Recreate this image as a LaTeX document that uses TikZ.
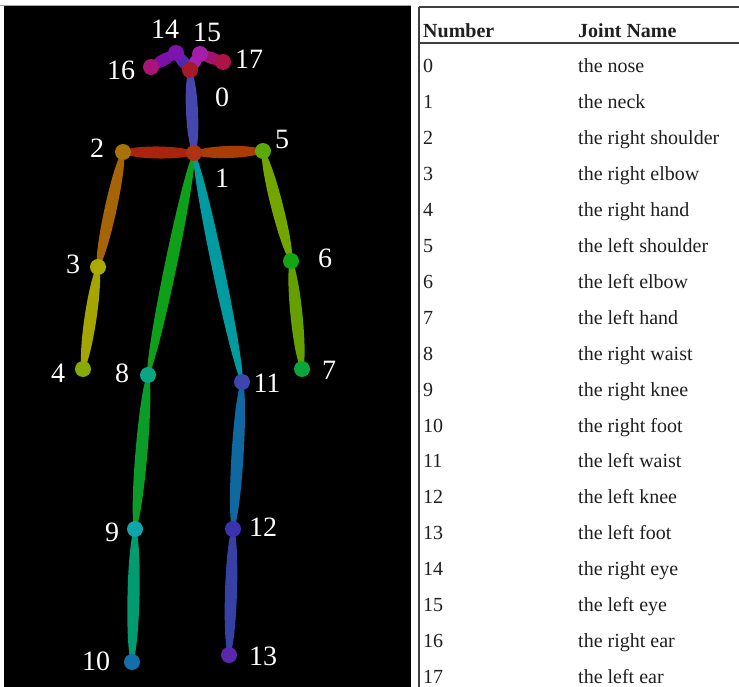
\documentclass[tikz,border=0pt]{standalone}
\usepackage{fontspec}
\setmainfont{Liberation Serif}
\usetikzlibrary{calc,backgrounds}
% joint colours (0..17)
\definecolor{c0}{RGB}{165,25,40}
\definecolor{c1}{RGB}{175,50,20}
\definecolor{c2}{RGB}{170,115,10}
\definecolor{c3}{RGB}{170,170,0}
\definecolor{c4}{RGB}{135,170,10}
\definecolor{c5}{RGB}{90,170,10}
\definecolor{c6}{RGB}{20,165,20}
\definecolor{c7}{RGB}{10,165,60}
\definecolor{c8}{RGB}{10,165,130}
\definecolor{c9}{RGB}{15,165,170}
\definecolor{c10}{RGB}{20,110,170}
\definecolor{c11}{RGB}{60,70,175}
\definecolor{c12}{RGB}{60,50,175}
\definecolor{c13}{RGB}{90,40,175}
\definecolor{c14}{RGB}{125,20,175}
\definecolor{c15}{RGB}{165,30,170}
\definecolor{c16}{RGB}{170,20,120}
\definecolor{c17}{RGB}{170,20,70}
% limb colours
\definecolor{neckR}{RGB}{170,35,15}
\definecolor{neckL}{RGB}{170,60,5}
\definecolor{armR1}{RGB}{165,100,5}
\definecolor{armR2}{RGB}{165,165,0}
\definecolor{armL1}{RGB}{115,165,0}
\definecolor{armL2}{RGB}{100,160,0}
\definecolor{bodyR}{RGB}{15,160,25}
\definecolor{legR1}{RGB}{10,155,40}
\definecolor{legR2}{RGB}{0,155,110}
\definecolor{bodyL}{RGB}{0,155,160}
\definecolor{legL1}{RGB}{15,105,160}
\definecolor{legL2}{RGB}{55,65,165}
\definecolor{head}{RGB}{70,70,175}
\definecolor{eyeR}{RGB}{80,40,170}
\definecolor{earR}{RGB}{125,15,170}
\definecolor{eyeL}{RGB}{160,35,170}
\definecolor{earL}{RGB}{160,20,110}
\tikzset{
  joint/.style={circle, fill=#1, inner sep=0pt, minimum size=16pt},
  num/.style={text=white, inner sep=0pt, font=\fontsize{28}{28}\selectfont},
  cell/.style={anchor=base west, inner sep=0pt, text=black!88,
               font=\fontsize{20}{22}\selectfont},
  head/.style={cell, font=\fontsize{20}{22}\selectfont\bfseries},
  rule/.style={draw=black!75, line width=1.3pt}
}
% one limb: a slim ellipse from joint #1 to joint #2
\newcommand{\limb}[3]{%
  \path[fill=#3] let \p1=($(#2)-(#1)$), \n1={atan2(\y1,\x1)},
        \n2={veclen(\x1,\y1)/2} in
    ($(#1)!0.5!(#2)$) ellipse [x radius=\n2, y radius=6pt, rotate=\n1];}

\begin{document}
\begin{tikzpicture}[x=1pt, y=-1pt]
  \useasboundingbox (0,0) rectangle (739,687);
  % joints
  \node[joint=c0]  (j0)  at (190,70)  {};
  \node[joint=c1]  (j1)  at (194,153) {};
  \node[joint=c2]  (j2)  at (123,152) {};
  \node[joint=c3]  (j3)  at (98,267)  {};
  \node[joint=c4]  (j4)  at (83,369)  {};
  \node[joint=c5]  (j5)  at (263,151) {};
  \node[joint=c6]  (j6)  at (291,261) {};
  \node[joint=c7]  (j7)  at (302,369) {};
  \node[joint=c8]  (j8)  at (148,375) {};
  \node[joint=c9]  (j9)  at (135,529) {};
  \node[joint=c10] (j10) at (132,662) {};
  \node[joint=c11] (j11) at (242,382) {};
  \node[joint=c12] (j12) at (233,529) {};
  \node[joint=c13] (j13) at (229,655) {};
  \node[joint=c14] (j14) at (176,53)  {};
  \node[joint=c15] (j15) at (200,54)  {};
  \node[joint=c16] (j16) at (151,67)  {};
  \node[joint=c17] (j17) at (223,62)  {};
  % panel and limbs behind the joints
  \begin{scope}[on background layer]
    \draw[black!35, line width=1pt] (0,6) -- (411,6);
    \fill[black] (4,6.5) rectangle (411,687);
    \limb{j1}{j2}{neckR}
    \limb{j1}{j5}{neckL}
    \limb{j2}{j3}{armR1}
    \limb{j3}{j4}{armR2}
    \limb{j5}{j6}{armL1}
    \limb{j6}{j7}{armL2}
    \limb{j1}{j8}{bodyR}
    \limb{j8}{j9}{legR1}
    \limb{j9}{j10}{legR2}
    \limb{j1}{j11}{bodyL}
    \limb{j11}{j12}{legL1}
    \limb{j12}{j13}{legL2}
    \limb{j1}{j0}{head}
    \limb{j0}{j14}{eyeR}
    \limb{j14}{j16}{earR}
    \limb{j0}{j15}{eyeL}
    \limb{j15}{j17}{earL}
  \end{scope}
  % joint numbers
  \node[num] (n0)  at (222,97)  {0};
  \node[num] (n1)  at (222,178) {1};
  \node[num] (n2)  at (97,148)  {2};
  \node[num] (n3)  at (73,264)  {3};
  \node[num] (n4)  at (58,373)  {4};
  \node[num] (n5)  at (282,139) {5};
  \node[num] (n6)  at (325,258) {6};
  \node[num] (n7)  at (329,370) {7};
  \node[num] (n8)  at (122,373) {8};
  \node[num] (n9)  at (112,532) {9};
  \node[num] (n10) at (96,661)  {10};
  \node[num] (n11) at (267,383) {11};
  \node[num] (n12) at (263,527) {12};
  \node[num] (n13) at (263,656) {13};
  \node[num] (n14) at (165,29)  {14};
  \node[num] (n15) at (207,32)  {15};
  \node[num] (n16) at (121,70)  {16};
  \node[num] (n17) at (249,59)  {17};
  % table
  \draw[rule] (419,7) -- (739,7);
  \draw[rule] (419,43) -- (739,43);
  \draw[rule] (419,7) -- (419,687);
  \node[head] (hnum)  at (423,38) {Number};
  \node[head] (hname) at (578,38) {Joint Name};
  \foreach \jname [count=\i from 0] in {the nose, the neck, the right shoulder,
      the right elbow, the right hand, the left shoulder, the left elbow,
      the left hand, the right waist, the right knee, the right foot,
      the left waist, the left knee, the left foot, the right eye,
      the left eye, the right ear, the left ear} {
    \node[cell] (num\i)  at (423,{73+35.9*\i}) {\i};
    \node[cell] (name\i) at (578,{73+35.9*\i}) {\jname};
  }
\end{tikzpicture}
\end{document}
